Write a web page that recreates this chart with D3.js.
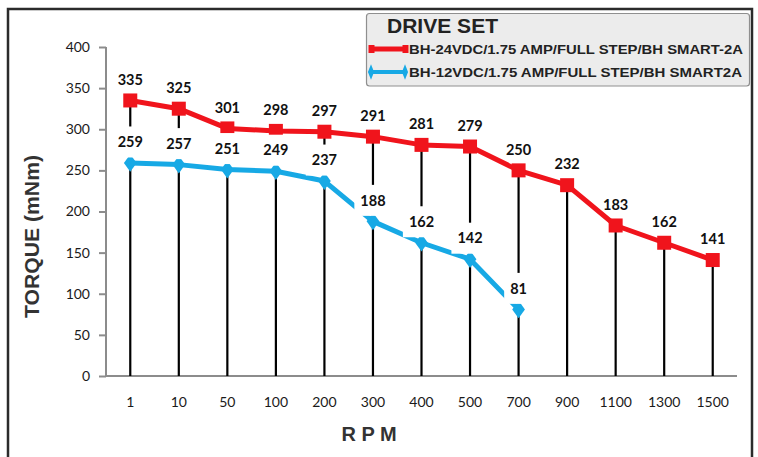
<!DOCTYPE html>
<html>
<head>
<meta charset="utf-8">
<script src="https://cdn.jsdelivr.net/npm/d3@7"></script>
<style>
  html, body { margin: 0; padding: 0; background: #fff; }
  svg { display: block; }
</style>
</head>
<body>
<svg id="chart" width="758" height="457"></svg>
<script>
const categories = ["1", "10", "50", "100", "200", "300", "400", "500", "700", "900", "1100", "1300", "1500"];
const red24V = [335, 325, 301, 298, 297, 291, 281, 279, 250, 232, 183, 162, 141];
const blue12V = [259, 257, 251, 249, 237, 188, 162, 142, 81];
const yTicks = [0, 50, 100, 150, 200, 250, 300, 350, 400];
const legendTitle = "DRIVE SET";
const seriesNames = ["BH-24VDC/1.75 AMP/FULL STEP/BH SMART-2A", "BH-12VDC/1.75 AMP/FULL STEP/BH SMART2A"];
const xTitle = "R P M";
const yTitle = "TORQUE (mNm)";

const RED = "#f0141c", BLUE = "#17a9e5";
const svg = d3.select("#chart");

// outer frame
svg.append("path").attr("d", "M8,460 L8,9 L752,9 L752,460")
  .attr("fill", "none").attr("stroke", "#2b2b2b").attr("stroke-width", 2.5);

const x = d3.scaleBand().domain(categories).range([106, 737]).padding(0);
const y = d3.scaleLinear().domain([0, 400]).range([376, 47]);
const cx = c => x(c) + x.bandwidth() / 2;

// y axis
const yAxis = svg.append("g").attr("transform", "translate(106,0)")
  .call(d3.axisLeft(y).tickValues(yTicks).tickSize(7).tickPadding(9));
yAxis.select(".domain").attr("stroke", "#8c8c8c").attr("stroke-width", 2).attr("d", "M0,47V376");
yAxis.selectAll(".tick line").attr("stroke", "#8c8c8c").attr("stroke-width", 2);
yAxis.selectAll(".tick text").attr("font-family", "Lato, 'Open Sans', sans-serif")
  .attr("font-size", 14).attr("fill", "#1a1a1a");

// x axis
const xAxis = svg.append("g").attr("transform", "translate(0,376)")
  .call(d3.axisBottom(x).tickSize(0).tickPadding(21));
xAxis.select(".domain").attr("stroke", "#8c8c8c").attr("stroke-width", 2).attr("d", "M106,0H737");
xAxis.selectAll(".tick text").attr("font-family", "Lato, 'Open Sans', sans-serif")
  .attr("font-size", 14).attr("fill", "#1a1a1a");

// drop lines
svg.append("g").selectAll("line").data(categories).join("line")
  .attr("x1", c => cx(c)).attr("x2", c => cx(c))
  .attr("y1", y(0))
  .attr("y2", (c, i) => y(Math.max(red24V[i], blue12V[i] ?? 0)))
  .attr("stroke", "#000").attr("stroke-width", 2.2);

// series lines
const line = d3.line().x(d => cx(d.c)).y(d => y(d.v));
const redPts = red24V.map((v, i) => ({ c: categories[i], v, box: false }));
const bluePts = blue12V.map((v, i) => ({ c: categories[i], v, box: true }));

svg.append("path").datum(bluePts).attr("d", line)
  .attr("fill", "none").attr("stroke", BLUE).attr("stroke-width", 5).attr("stroke-linejoin", "round");
svg.append("g").selectAll("path").data(bluePts).join("path")
  .attr("d", d3.symbol(d3.symbolDiamond, 90))
  .attr("transform", d => `translate(${cx(d.c)},${y(d.v)}) scale(1.25,1)`)
  .attr("fill", BLUE);

svg.append("path").datum(redPts).attr("d", line)
  .attr("fill", "none").attr("stroke", RED).attr("stroke-width", 5).attr("stroke-linejoin", "round");
svg.append("g").selectAll("rect").data(redPts).join("rect")
  .attr("x", d => cx(d.c) - 7).attr("y", d => y(d.v) - 7)
  .attr("width", 14).attr("height", 14).attr("fill", RED);

// data labels (blue ones sit on white boxes)
const labels = redPts.concat(bluePts);
const lg = svg.append("g");
labels.forEach(d => {
  const g = lg.append("g");
  const rect = g.append("rect").attr("fill", "#fff");
  const t = g.append("text")
    .attr("x", cx(d.c)).attr("y", y(d.v) - 21).attr("dy", "0.36em")
    .attr("text-anchor", "middle")
    .attr("font-family", "Lato, 'Open Sans', sans-serif").attr("font-weight", "bold")
    .attr("font-size", 14.5).attr("fill", "#111").text(d.v);
  if (d.box) {
    const w = t.node().getComputedTextLength() + 12;
    rect.attr("x", cx(d.c) - w / 2).attr("y", y(d.v) - 21 - 15.5).attr("width", w).attr("height", 31);
  } else {
    rect.remove();
  }
});

// axis titles
svg.append("text").attr("x", 369).attr("y", 441).attr("text-anchor", "middle")
  .attr("font-family", "'Liberation Sans', Arial, sans-serif").attr("font-weight", "bold")
  .attr("font-size", 20).attr("fill", "#333").text(xTitle);
svg.append("text").attr("transform", "translate(39,236.5) rotate(-90)").attr("text-anchor", "middle")
  .attr("font-family", "'Liberation Sans', Arial, sans-serif").attr("font-weight", "bold")
  .attr("font-size", 20).attr("fill", "#333")
  .attr("textLength", 163).attr("lengthAdjust", "spacingAndGlyphs").text(yTitle);

// legend
const leg = svg.append("g");
leg.append("rect").attr("x", 366.5).attr("y", 13.5).attr("width", 383).attr("height", 72.5)
  .attr("rx", 3).attr("fill", "#ececec").attr("stroke", "#8f8f8f").attr("stroke-width", 1.2);
leg.append("text").attr("x", 387).attr("y", 33)
  .attr("font-family", "'Liberation Sans', Arial, sans-serif").attr("font-weight", "bold")
  .attr("font-size", 21).attr("fill", "#222")
  .attr("textLength", 111).attr("lengthAdjust", "spacingAndGlyphs").text(legendTitle);

const legY = [49, 72];
// red entry
leg.append("line").attr("x1", 371).attr("x2", 405).attr("y1", legY[0]).attr("y2", legY[0])
  .attr("stroke", RED).attr("stroke-width", 5);
[371, 405].forEach(px => leg.append("rect").attr("x", px - 2.5).attr("y", legY[0] - 4).attr("width", 6).attr("height", 8).attr("fill", RED));
// blue entry
leg.append("line").attr("x1", 371).attr("x2", 405).attr("y1", legY[1]).attr("y2", legY[1])
  .attr("stroke", BLUE).attr("stroke-width", 4);
[371, 405].forEach(px => leg.append("path").attr("d", d3.symbol(d3.symbolDiamond, 40))
  .attr("transform", `translate(${px},${legY[1]}) scale(0.9,1.3)`).attr("fill", BLUE));

seriesNames.forEach((n, i) => {
  leg.append("text").attr("x", 409).attr("y", legY[i] + 4.5)
    .attr("font-family", "'Liberation Sans', Arial, sans-serif").attr("font-weight", "bold")
    .attr("font-size", 12.5).attr("fill", "#222")
    .attr("textLength", i === 0 ? 334 : 333).attr("lengthAdjust", "spacingAndGlyphs").text(n);
});
</script>
</body>
</html>
